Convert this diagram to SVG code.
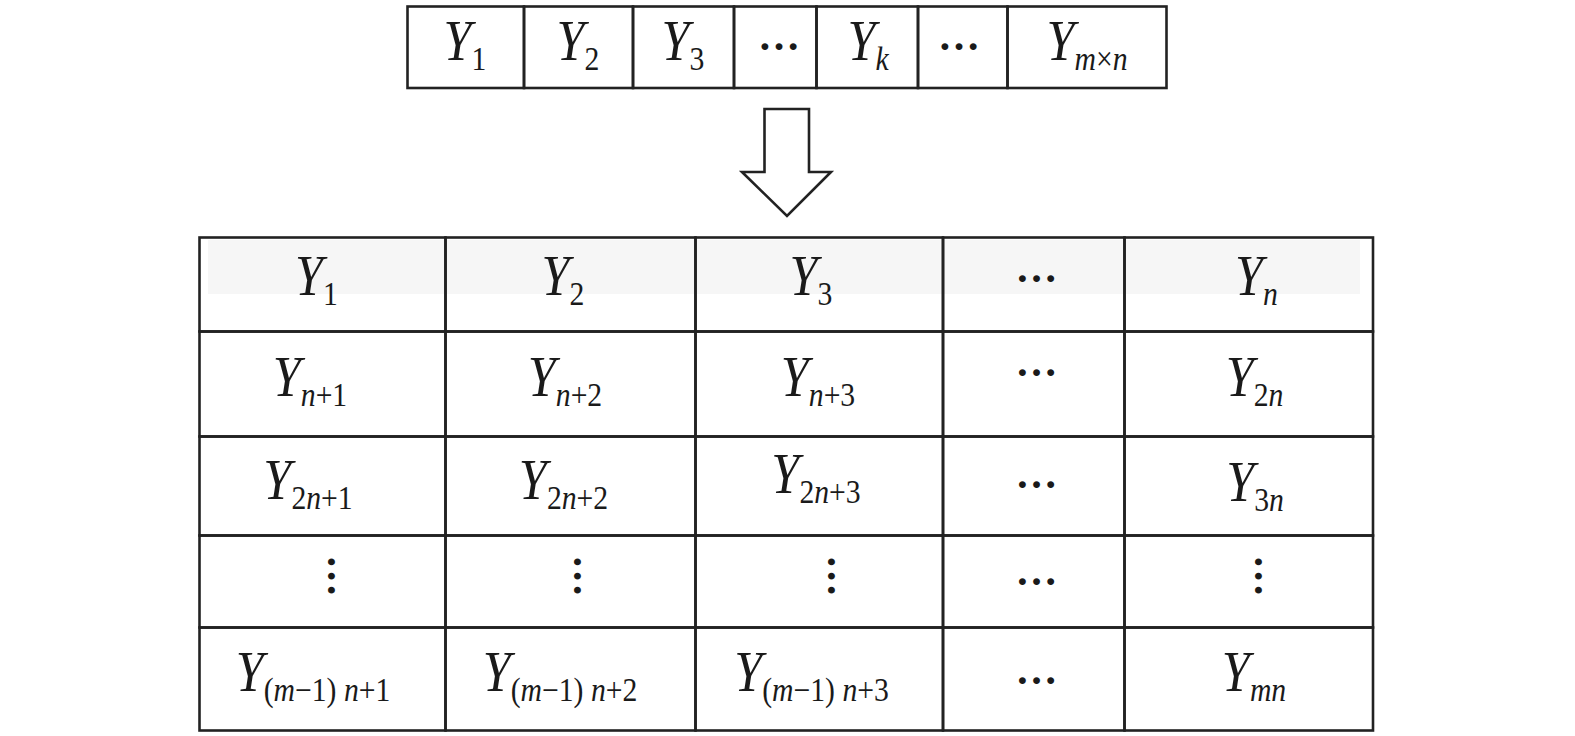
<svg xmlns="http://www.w3.org/2000/svg" width="1575" height="736" viewBox="0 0 1575 736">
<style>
.c{fill:none;stroke:#222;stroke-width:2.6}
.t{font-family:"Liberation Serif","Times New Roman",serif;font-size:56px;fill:#1a1a1a;text-anchor:middle}
.i{font-style:italic}
.s{font-size:33px}
.d{font-family:"Liberation Serif","Times New Roman",serif;font-size:42px;font-weight:bold;fill:#1a1a1a;text-anchor:middle}
</style>
<rect width="1575" height="736" fill="#fff"/>
<rect x="208" y="240" width="1152" height="54" fill="#f6f6f6"/>
<g id="sequence">
<g id="s1"><rect class="c" x="407.5" y="6.5" width="116.5" height="81.5"/><text class="t" transform="translate(465 60) scale(.9 1)"><tspan class="i">Y</tspan><tspan class="s" dy="10">1</tspan></text></g>
<g id="s2"><rect class="c" x="524" y="6.5" width="109" height="81.5"/><text class="t" transform="translate(578 60) scale(.9 1)"><tspan class="i">Y</tspan><tspan class="s" dy="10">2</tspan></text></g>
<g id="s3"><rect class="c" x="633" y="6.5" width="101" height="81.5"/><text class="t" transform="translate(683 60) scale(.9 1)"><tspan class="i">Y</tspan><tspan class="s" dy="10">3</tspan></text></g>
<g id="s4"><rect class="c" x="734" y="6.5" width="82.5" height="81.5"/><text class="d" x="779" y="50">…</text></g>
<g id="s5"><rect class="c" x="816.5" y="6.5" width="101.5" height="81.5"/><text class="t" transform="translate(868 60) scale(.9 1)"><tspan class="i">Y</tspan><tspan class="s i" dy="10">k</tspan></text></g>
<g id="s6"><rect class="c" x="918" y="6.5" width="89.5" height="81.5"/><text class="d" x="959" y="50">…</text></g>
<g id="s7"><rect class="c" x="1007.5" y="6.5" width="159" height="81.5"/><text class="t" transform="translate(1087 60) scale(.9 1)"><tspan class="i">Y</tspan><tspan class="s" dy="10"><tspan class="i">m</tspan>×<tspan class="i">n</tspan></tspan></text></g>
</g>
<g id="connectors">
<polygon points="764.5,109 809,109 809,172 831,172 787,216 742,172 764.5,172" fill="#fff" stroke="#222" stroke-width="2.6" stroke-linejoin="miter"/>
</g>
<g id="matrix">
<g id="r1c1"><rect class="c" x="199.5" y="237.5" width="246" height="94"/><text class="t" transform="translate(316.5 295) scale(.9 1)"><tspan class="i">Y</tspan><tspan class="s" dy="10">1</tspan></text></g>
<g id="r1c2"><rect class="c" x="445.5" y="237.5" width="250" height="94"/><text class="t" transform="translate(563 295) scale(.9 1)"><tspan class="i">Y</tspan><tspan class="s" dy="10">2</tspan></text></g>
<g id="r1c3"><rect class="c" x="695.5" y="237.5" width="247.5" height="94"/><text class="t" transform="translate(811 295) scale(.9 1)"><tspan class="i">Y</tspan><tspan class="s" dy="10">3</tspan></text></g>
<g id="r1c4"><rect class="c" x="943" y="237.5" width="181.5" height="94"/><text class="d" x="1036.5" y="282">…</text></g>
<g id="r1c5"><rect class="c" x="1124.5" y="237.5" width="248.5" height="94"/><text class="t" transform="translate(1256.5 295) scale(.9 1)"><tspan class="i">Y</tspan><tspan class="s i" dy="10">n</tspan></text></g>

<g id="r2c1"><rect class="c" x="199.5" y="331.5" width="246" height="105"/><text class="t" transform="translate(310 396) scale(.9 1)"><tspan class="i">Y</tspan><tspan class="s" dy="10"><tspan class="i">n</tspan>+1</tspan></text></g>
<g id="r2c2"><rect class="c" x="445.5" y="331.5" width="250" height="105"/><text class="t" transform="translate(565 396) scale(.9 1)"><tspan class="i">Y</tspan><tspan class="s" dy="10"><tspan class="i">n</tspan>+2</tspan></text></g>
<g id="r2c3"><rect class="c" x="695.5" y="331.5" width="247.5" height="105"/><text class="t" transform="translate(818 396) scale(.9 1)"><tspan class="i">Y</tspan><tspan class="s" dy="10"><tspan class="i">n</tspan>+3</tspan></text></g>
<g id="r2c4"><rect class="c" x="943" y="331.5" width="181.5" height="105"/><text class="d" x="1036.5" y="376">…</text></g>
<g id="r2c5"><rect class="c" x="1124.5" y="331.5" width="248.5" height="105"/><text class="t" transform="translate(1254.5 396) scale(.9 1)"><tspan class="i">Y</tspan><tspan class="s" dy="10">2<tspan class="i">n</tspan></tspan></text></g>

<g id="r3c1"><rect class="c" x="199.5" y="436.5" width="246" height="99"/><text class="t" transform="translate(308 499) scale(.9 1)"><tspan class="i">Y</tspan><tspan class="s" dy="10">2<tspan class="i">n</tspan>+1</tspan></text></g>
<g id="r3c2"><rect class="c" x="445.5" y="436.5" width="250" height="99"/><text class="t" transform="translate(563.5 499) scale(.9 1)"><tspan class="i">Y</tspan><tspan class="s" dy="10">2<tspan class="i">n</tspan>+2</tspan></text></g>
<g id="r3c3"><rect class="c" x="695.5" y="436.5" width="247.5" height="99"/><text class="t" transform="translate(816 493) scale(.9 1)"><tspan class="i">Y</tspan><tspan class="s" dy="10">2<tspan class="i">n</tspan>+3</tspan></text></g>
<g id="r3c4"><rect class="c" x="943" y="436.5" width="181.5" height="99"/><text class="d" x="1036.5" y="488">…</text></g>
<g id="r3c5"><rect class="c" x="1124.5" y="436.5" width="248.5" height="99"/><text class="t" transform="translate(1255 500.5) scale(.9 1)"><tspan class="i">Y</tspan><tspan class="s" dy="10">3<tspan class="i">n</tspan></tspan></text></g>

<g id="r4c1"><rect class="c" x="199.5" y="535.5" width="246" height="92"/><text class="d" transform="translate(330 576) rotate(90)" y="2">…</text></g>
<g id="r4c2"><rect class="c" x="445.5" y="535.5" width="250" height="92"/><text class="d" transform="translate(576 576) rotate(90)" y="2">…</text></g>
<g id="r4c3"><rect class="c" x="695.5" y="535.5" width="247.5" height="92"/><text class="d" transform="translate(830 576) rotate(90)" y="2">…</text></g>
<g id="r4c4"><rect class="c" x="943" y="535.5" width="181.5" height="92"/><text class="d" x="1036.5" y="584.5">…</text></g>
<g id="r4c5"><rect class="c" x="1124.5" y="535.5" width="248.5" height="92"/><text class="d" transform="translate(1257 576) rotate(90)" y="2">…</text></g>

<g id="r5c1"><rect class="c" x="199.5" y="627.5" width="246" height="103"/><text class="t" transform="translate(313 691) scale(.9 1)"><tspan class="i">Y</tspan><tspan class="s" dy="10">(<tspan class="i">m</tspan>−1) <tspan class="i">n</tspan>+1</tspan></text></g>
<g id="r5c2"><rect class="c" x="445.5" y="627.5" width="250" height="103"/><text class="t" transform="translate(560 691) scale(.9 1)"><tspan class="i">Y</tspan><tspan class="s" dy="10">(<tspan class="i">m</tspan>−1) <tspan class="i">n</tspan>+2</tspan></text></g>
<g id="r5c3"><rect class="c" x="695.5" y="627.5" width="247.5" height="103"/><text class="t" transform="translate(811.5 691) scale(.9 1)"><tspan class="i">Y</tspan><tspan class="s" dy="10">(<tspan class="i">m</tspan>−1) <tspan class="i">n</tspan>+3</tspan></text></g>
<g id="r5c4"><rect class="c" x="943" y="627.5" width="181.5" height="103"/><text class="d" x="1036.5" y="683.5">…</text></g>
<g id="r5c5"><rect class="c" x="1124.5" y="627.5" width="248.5" height="103"/><text class="t" transform="translate(1254 691) scale(.9 1)"><tspan class="i">Y</tspan><tspan class="s i" dy="10">mn</tspan></text></g>
</g>
</svg>
